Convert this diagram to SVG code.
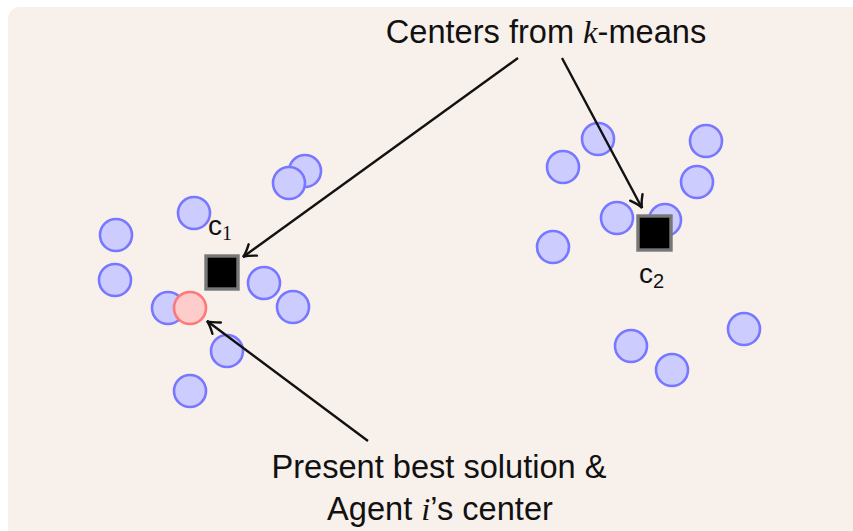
<svg xmlns="http://www.w3.org/2000/svg" width="853" height="531" viewBox="0 0 853 531">
  <style>
    .pt { fill: #ccccff; stroke: #7777ff; stroke-width: 2.6; }
    .best { fill: #ffcccc; stroke: #ff7777; stroke-width: 2.6; }
    .ctr { fill: #000000; stroke: #777777; stroke-width: 3.4; }
    .lbl { font-family: "Liberation Sans", Arial, sans-serif; font-size: 32.6px; fill: #111111; }
    .it { font-family: "Liberation Serif", "Times New Roman", serif; font-style: italic; }
    .cl { font-family: "Liberation Sans", Arial, sans-serif; font-size: 28px; fill: #111111; }
    .conn { stroke: #111111; stroke-width: 2.4; fill: none; }
  </style>
  <defs>
    <marker id="arrow" markerUnits="userSpaceOnUse" viewBox="-15 -9 17 18" refX="0" refY="0" markerWidth="17" markerHeight="18" orient="auto">
      <path d="M-12,-7 Q-4,-1 0,0 Q-4,1 -12,7" fill="none" stroke="#111111" stroke-width="2.4" stroke-linecap="round"/>
    </marker>
  </defs>

  <rect x="0" y="0" width="853" height="531" fill="#ffffff"/>
  <rect x="8" y="7" width="870" height="550" rx="12" fill="#f7f0eb"/>

  <!-- left cluster -->
  <g id="cluster1">
    <circle class="pt" cx="305" cy="171" r="16"/>
    <circle class="pt" cx="289" cy="183" r="16"/>
    <circle class="pt" cx="194" cy="213" r="16"/>
    <circle class="pt" cx="116" cy="235" r="16"/>
    <circle class="pt" cx="115" cy="280" r="16"/>
    <circle class="pt" cx="168" cy="308" r="16"/>
    <circle class="pt" cx="264" cy="283" r="16"/>
    <circle class="pt" cx="293" cy="307" r="16"/>
    <circle class="pt" cx="227" cy="351" r="16"/>
    <circle class="pt" cx="190" cy="391" r="16"/>
  </g>
  <g id="best">
    <circle class="best" cx="190" cy="308" r="16"/>
  </g>
  <g id="c1">
    <rect class="ctr" x="206" y="256" width="32" height="33"/>
    <text class="cl" x="208" y="235">c<tspan font-family="Liberation Serif, serif" font-size="20" dy="5">1</tspan></text>
  </g>

  <!-- right cluster -->
  <g id="cluster2">
    <circle class="pt" cx="598" cy="139" r="16"/>
    <circle class="pt" cx="563" cy="167" r="16"/>
    <circle class="pt" cx="706" cy="141" r="16"/>
    <circle class="pt" cx="697" cy="182" r="16"/>
    <circle class="pt" cx="617" cy="218" r="16"/>
    <circle class="pt" cx="665" cy="220" r="16"/>
    <circle class="pt" cx="553" cy="247" r="16"/>
    <circle class="pt" cx="631" cy="346" r="16"/>
    <circle class="pt" cx="672" cy="370" r="16"/>
    <circle class="pt" cx="744" cy="329" r="16"/>
  </g>
  <g id="c2">
    <rect class="ctr" x="638" y="216" width="33" height="34"/>
    <text class="cl" x="639" y="283">c<tspan font-size="20" dy="5">2</tspan></text>
  </g>

  <!-- labels -->
  <g id="label-centers">
    <text class="lbl" x="546" y="43" text-anchor="middle">Centers from <tspan class="it">k</tspan>-means</text>
  </g>
  <g id="label-best">
    <text class="lbl" x="439" y="478" text-anchor="middle">Present best solution &amp;</text>
    <text class="lbl" x="440" y="520" text-anchor="middle">Agent <tspan class="it">i</tspan>’s center</text>
  </g>

  <!-- connectors -->
  <g id="connectors">
    <line class="conn" x1="518" y1="58" x2="243" y2="257" marker-end="url(#arrow)"/>
    <line class="conn" x1="562" y1="58" x2="642" y2="208" marker-end="url(#arrow)"/>
    <line class="conn" x1="368" y1="441" x2="207" y2="321" marker-end="url(#arrow)"/>
  </g>
</svg>
